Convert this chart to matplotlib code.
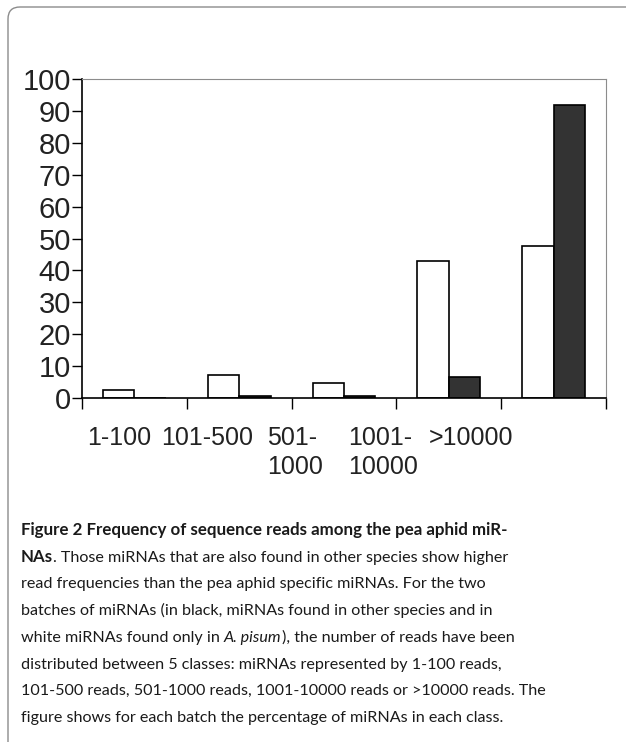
import matplotlib.pyplot as plt
from matplotlib.patches import FancyBboxPatch
from matplotlib.transforms import IdentityTransform
import numpy as np

# categorias de lecturas y porcentaje de miRNAs por clase
categorias = ['1-100', '101-500', '501-\n1000', '1001-\n10000', '>10000']
solo_apisum = [2.5, 7.2, 4.6, 43.0, 47.7]      # barras blancas
otras_especies = [0.0, 0.5, 0.5, 6.5, 92.0]    # barras negras
yticks = list(range(0, 101, 10))

# leyenda (texto de la figura), por segmentos: (texto, peso, estilo)
leyenda = [
    [('Figure 2 Frequency of sequence reads among the pea aphid miR-', 'bold', 'normal')],
    [('NAs', 'bold', 'normal'),
     ('. Those miRNAs that are also found in other species show higher', 'normal', 'normal')],
    [('read frequencies than the pea aphid specific miRNAs. For the two', 'normal', 'normal')],
    [('batches of miRNAs (in black, miRNAs found in other species and in', 'normal', 'normal')],
    [('white miRNAs found only in ', 'normal', 'normal'), ('A. pisum', 'normal', 'italic'),
     ('), the number of reads have been', 'normal', 'normal')],
    [('distributed between 5 classes: miRNAs represented by 1-100 reads,', 'normal', 'normal')],
    [('101-500 reads, 501-1000 reads, 1001-10000 reads or >10000 reads. The', 'normal', 'normal')],
    [('figure shows for each batch the percentage of miRNAs in each class.', 'normal', 'normal')],
]

W, H = 626, 742
fig = plt.figure(figsize=(W / 100, H / 100), dpi=100)
fig.patch.set_facecolor('white')

# marco redondeado
marco = FancyBboxPatch((8, -20), 640, H - 7 + 20,
                       boxstyle='round,pad=0,rounding_size=12',
                       transform=IdentityTransform(), facecolor='none',
                       edgecolor='#8c8c8c', linewidth=1.0)
fig.patches.append(marco)

ax = fig.add_axes([82 / W, 1 - 398 / H, (606 - 82) / W, (398 - 79) / H])
x = np.arange(len(categorias))
ancho = 0.30
ax.bar(x - ancho / 2, solo_apisum, ancho, color='white', edgecolor='black', linewidth=1.2)
ax.bar(x + ancho / 2, otras_especies, ancho, color='#333333', edgecolor='black', linewidth=1.2)

ax.set_xlim(-0.5, len(categorias) - 0.5)
ax.set_ylim(0, 100)

fuente = 'Liberation Sans'
ax.set_yticks(yticks)
ax.set_yticklabels([str(v) for v in yticks], family=fuente, fontsize=21, color='#222222')
ax.tick_params(axis='y', direction='out', length=7, width=1, color='black', pad=1)

# marcas entre grupos (menores) y etiquetas desplazadas como en el original
ax.set_xticks(np.arange(-0.5, len(categorias)), minor=True)
ax.tick_params(axis='x', which='minor', direction='out', length=8, width=1, color='black')
pos_etiquetas = -0.148 + 0.84 * x
ax.set_xticks(pos_etiquetas)
ax.set_xticklabels(categorias, family=fuente, fontsize=18, color='#222222',
                   multialignment='left', linespacing=1.3)
ax.tick_params(axis='x', which='major', length=0, pad=20)

for lado in ['top', 'right']:
    ax.spines[lado].set_color('#8c8c8c')
for lado in ['left', 'bottom']:
    ax.spines[lado].set_color('black')
    ax.spines[lado].set_linewidth(1.2)

# leyenda linea por linea
fig.canvas.draw()
rend = fig.canvas.get_renderer()
y0 = 535
paso = 26.7
for i, linea in enumerate(leyenda):
    xp = 21
    yp = y0 + i * paso
    for texto, peso, estilo in linea:
        tam = 12.2 if peso == 'bold' else 11.6
        t = fig.text(xp / W, 1 - yp / H, texto, family='Lato', fontsize=tam,
                     fontweight=peso, fontstyle=estilo, color='#1a1a1a', va='baseline', ha='left')
        bb = t.get_window_extent(rend)
        xp += bb.width

fig.savefig('out.png', dpi=100)
